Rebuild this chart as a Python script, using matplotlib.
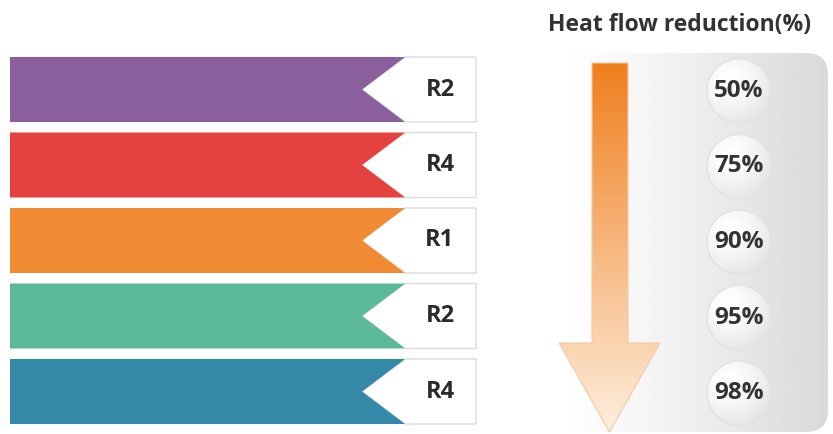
import matplotlib.pyplot as plt
import numpy as np
from matplotlib.patches import Polygon, FancyBboxPatch, Circle

# Data
labels = ['R2', 'R4', 'R1', 'R2', 'R4']
reduction = [50, 75, 90, 95, 98]
colors = ['#8B5E9E', '#E5423F', '#F08A33', '#5BB899', '#3488A8']
title = 'Heat flow reduction(%)'

plt.rcParams['font.family'] = ['Open Sans', 'DejaVu Sans']

fig = plt.figure(figsize=(8.33, 4.34), dpi=100)
ax = fig.add_axes([0, 0, 1, 1])
ax.set_xlim(0, 833)
ax.set_ylim(434, 0)
ax.axis('off')

# Left ribbons
row_top = 57
row_h = 65
pitch = 75.5
x0, x_end, x_notch, x_box = 10, 405, 362, 476
for i, (lab, col) in enumerate(zip(labels, colors)):
    t = row_top + i * pitch
    b = t + row_h
    m = (t + b) / 2
    box = Polygon([(x_notch, m), (x_end, t), (x_box, t), (x_box, b), (x_end, b)],
                  closed=True, facecolor='white', edgecolor='#dcdcdc', lw=1.0, zorder=2)
    ax.add_patch(box)
    rib = Polygon([(x0, t), (x_end, t), (x_notch, m), (x_end, b), (x0, b)],
                  closed=True, facecolor=col, edgecolor='none', zorder=3)
    ax.add_patch(rib)
    ax.text(440, m, lab, ha='center', va='center', fontsize=17,
            fontweight='bold', color='#2b2b2b', zorder=4)

# Right panel with horizontal gradient
px0, py0, px1, py1 = 527, 53, 828, 432
panel = FancyBboxPatch((px0, py0), px1 - px0, py1 - py0,
                       boxstyle='round,pad=0,rounding_size=22',
                       facecolor='none', edgecolor='none', zorder=1)
ax.add_patch(panel)
gx = np.linspace(0, 1, 256)
shade = 1.0 - 0.15 * np.clip((gx - 0.1) / 0.9, 0, 1) ** 1.2
grad = np.tile(shade, (2, 1))
im = ax.imshow(grad, cmap='gray', vmin=0, vmax=1, extent=(px0, px1, py1, py0),
               aspect='auto', zorder=1, interpolation='bilinear')
im.set_clip_path(panel)

# Arrow with vertical orange gradient
sx0, sx1 = 592, 628
ay_top, ay_head, ay_tip = 63, 343, 432
hx0, hx1 = 559, 660
arrow_pts = [(sx0, ay_top), (sx1, ay_top), (sx1, ay_head), (hx1, ay_head),
             ((hx0 + hx1) / 2, ay_tip), (hx0, ay_head), (sx0, ay_head)]
arrow = Polygon(arrow_pts, closed=True, facecolor='none',
                edgecolor='#f6c9a3', lw=0.8, zorder=3)
ax.add_patch(arrow)
top_c = np.array([240, 127, 30]) / 255
bot_c = np.array([254, 238, 222]) / 255
ty = np.linspace(0, 1, 256)[:, None]
agrad = top_c[None, :] * (1 - ty) + bot_c[None, :] * ty
agrad = np.repeat(agrad[:, None, :], 2, axis=1)
aim = ax.imshow(agrad, extent=(hx0, hx1, ay_tip, ay_top), aspect='auto',
                zorder=2, interpolation='bilinear')
aim.set_clip_path(arrow)

# Bubbles with percentages
cx = 739
cy0 = 91
cpitch = 75.5
r = 32
yy, xx = np.mgrid[-1:1:200j, -1:1:200j]
dist = np.sqrt((xx + 0.3) ** 2 + (yy + 0.35) ** 2)
bub = np.clip(1.0 - 0.06 * dist ** 1.5, 0.9, 1.0)
for i, val in enumerate(reduction):
    cy = cy0 + i * cpitch
    c = Circle((cx, cy), r, facecolor='none', edgecolor='#e2e2e2', lw=1.0, zorder=4)
    ax.add_patch(c)
    bim = ax.imshow(bub, cmap='gray', vmin=0, vmax=1,
                    extent=(cx - r, cx + r, cy + r, cy - r), aspect='auto',
                    zorder=3, interpolation='bilinear')
    bim.set_clip_path(c)
    ax.text(cx, cy, f'{val}%', ha='center', va='center', fontsize=17.5,
            fontweight='bold', color='#333333', zorder=5)

ax.text(680, 25, title, ha='center', va='center', fontsize=16.5,
        fontweight='bold', color='#333333')

fig.savefig('out.png', dpi=100)
